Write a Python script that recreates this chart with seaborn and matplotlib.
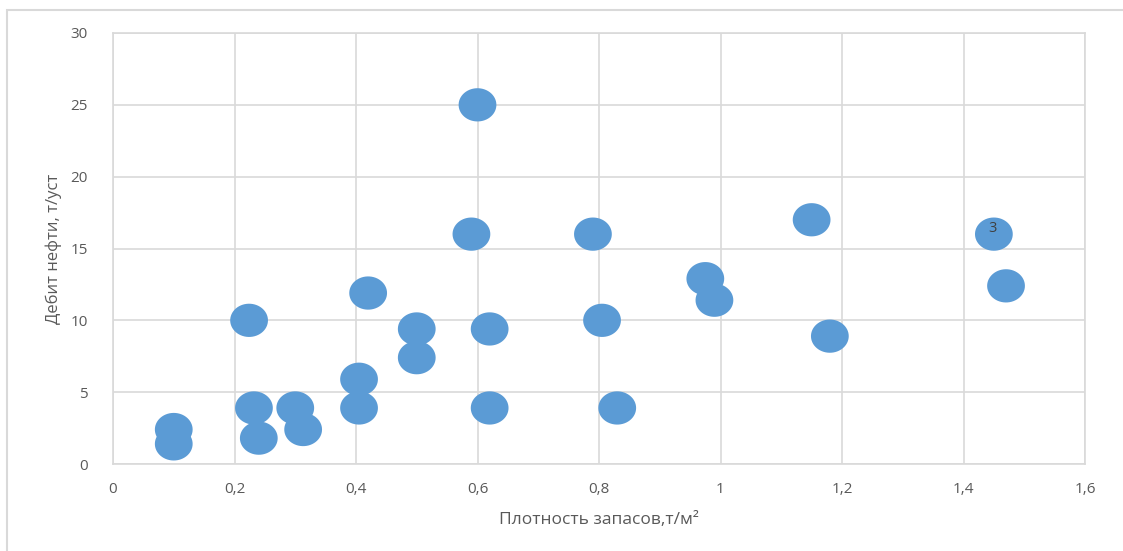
import numpy as np
import pandas as pd
import matplotlib
matplotlib.use("Agg")
import matplotlib.pyplot as plt
from matplotlib.path import Path
from matplotlib.patches import Rectangle
import seaborn as sns

# плотность запасов, т/м2
density = [0.60, 0.59, 0.79, 1.15, 1.45, 1.47, 0.975, 0.99, 1.18, 0.224, 0.42, 0.50,
           0.62, 0.805, 0.50, 0.405, 0.405, 0.232, 0.30, 0.62, 0.83, 0.10, 0.10, 0.24, 0.313]
# дебит нефти, т/уст
debit = [25.0, 16.0, 16.0, 17.0, 16.0, 12.4, 12.9, 11.4, 8.9, 10.0, 11.9, 9.4,
         9.4, 10.0, 7.4, 5.9, 3.9, 3.9, 3.9, 3.9, 3.9, 2.4, 1.4, 1.8, 2.4]
x_ticks = [0, 0.2, 0.4, 0.6, 0.8, 1.0, 1.2, 1.4, 1.6]
x_labels = ["0", "0,2", "0,4", "0,6", "0,8", "1", "1,2", "1,4", "1,6"]
y_ticks = [0, 5, 10, 15, 20, 25, 30]

df = pd.DataFrame({"density": density, "debit": debit})

sns.set_style("white")
plt.rcParams["font.family"] = ["Open Sans", "DejaVu Sans"]

fig = plt.figure(figsize=(11.23, 5.51), dpi=100)
ax = fig.add_axes([113 / 1123, 1 - 464 / 551, (1085 - 113) / 1123, (464 - 33) / 551])

# рамка диаграммы
fig.patches.append(Rectangle((7 / 1123, -0.1), 1.2, 1 - 10 / 551 + 0.1,
                             transform=fig.transFigure, fill=False,
                             edgecolor="#d9d9d9", linewidth=1.5))

# эллиптический маркер
t = np.linspace(0, 2 * np.pi, 60)
ellipse = Path(np.column_stack([np.cos(t), 0.88 * np.sin(t)]), closed=True)

sns.scatterplot(data=df, x="density", y="debit", ax=ax, marker=ellipse,
                s=740, color="#5b9bd5", edgecolor="none", linewidth=0, zorder=3)

ax.text(1.447, 16.4, "3", ha="center", va="center", fontsize=10.5,
        color="#404040", zorder=4)

ax.set_xlim(0, 1.6)
ax.set_ylim(0, 30)
ax.set_xticks(x_ticks)
ax.set_xticklabels(x_labels)
ax.set_yticks(y_ticks)
ax.grid(True, color="#d9d9d9", linewidth=1.2)
ax.set_axisbelow(True)
for sp in ax.spines.values():
    sp.set_color("#d9d9d9")
    sp.set_linewidth(1.2)
ax.tick_params(length=0, labelsize=11, colors="#595959", pad=13)
ax.tick_params(axis="y", pad=18)

ax.set_xlabel("Плотность запасов,т/м²", fontsize=12.5, color="#595959", labelpad=11)
ax.set_ylabel("Дебит нефти, т/уст", fontsize=12, color="#595959", labelpad=6)

fig.savefig("out.png", dpi=100)
